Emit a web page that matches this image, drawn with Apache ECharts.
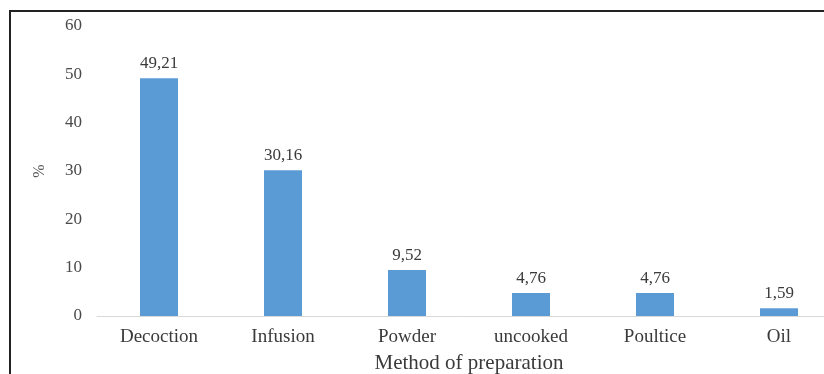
<!DOCTYPE html>
<html>
<head>
<meta charset="utf-8">
<script src="https://cdn.jsdelivr.net/npm/echarts@6/dist/echarts.min.js"></script>
<style>
  html, body { margin: 0; padding: 0; background: #fff; overflow: hidden; }
  #chart { width: 824px; height: 374px; }
</style>
</head>
<body>
<div id="chart"></div>
<script>
// Methods of preparation and their share (%)
const categories = ['Decoction', 'Infusion', 'Powder', 'uncooked', 'Poultice', 'Oil'];
const percentages = [49.21, 30.16, 9.52, 4.76, 4.76, 1.59];
const yTicks = { min: 0, max: 60, interval: 10 };

const font = '"Liberation Serif", "Times New Roman", serif';
const chart = echarts.init(document.getElementById('chart'), null, { width: 824, height: 374 });

chart.setOption({
  animation: false,
  backgroundColor: '#ffffff',
  grid: { left: 97, right: -17, top: 26, bottom: 58, containLabel: false, outerBoundsMode: 'none' },
  xAxis: {
    type: 'category',
    data: categories,
    name: 'Method of preparation',
    nameLocation: 'middle',
    nameGap: 37,
    nameTextStyle: { fontFamily: font, fontSize: 21, color: '#3a3a3a' },
    axisLine: { lineStyle: { color: '#d9d9d9', width: 1 } },
    axisTick: { show: false },
    axisLabel: { fontFamily: font, fontSize: 19, color: '#3a3a3a', margin: 12 }
  },
  yAxis: {
    type: 'value',
    min: yTicks.min,
    max: yTicks.max,
    interval: yTicks.interval,
    name: '%',
    nameLocation: 'middle',
    nameGap: 49,
    nameRotate: 90,
    nameTextStyle: { fontFamily: font, fontSize: 16, color: '#595959' },
    axisLine: { show: false },
    axisTick: { show: false },
    splitLine: { show: false },
    axisLabel: { fontFamily: font, fontSize: 17, color: '#4a4a4a', margin: 15 }
  },
  series: [{
    type: 'bar',
    data: percentages,
    barWidth: 38,
    itemStyle: { color: '#5b9bd5' },
    label: {
      show: true,
      position: 'top',
      distance: 6,
      fontFamily: font,
      fontSize: 17,
      color: '#3a3a3a',
      formatter: p => p.value.toFixed(2).replace('.', ',')
    }
  }],
  graphic: [
    { type: 'line', shape: { x1: 9, y1: 11, x2: 824, y2: 11 }, style: { stroke: '#222', lineWidth: 2 } },
    { type: 'line', shape: { x1: 10, y1: 10, x2: 10, y2: 374 }, style: { stroke: '#222', lineWidth: 2 } }
  ]
});
</script>
</body>
</html>
